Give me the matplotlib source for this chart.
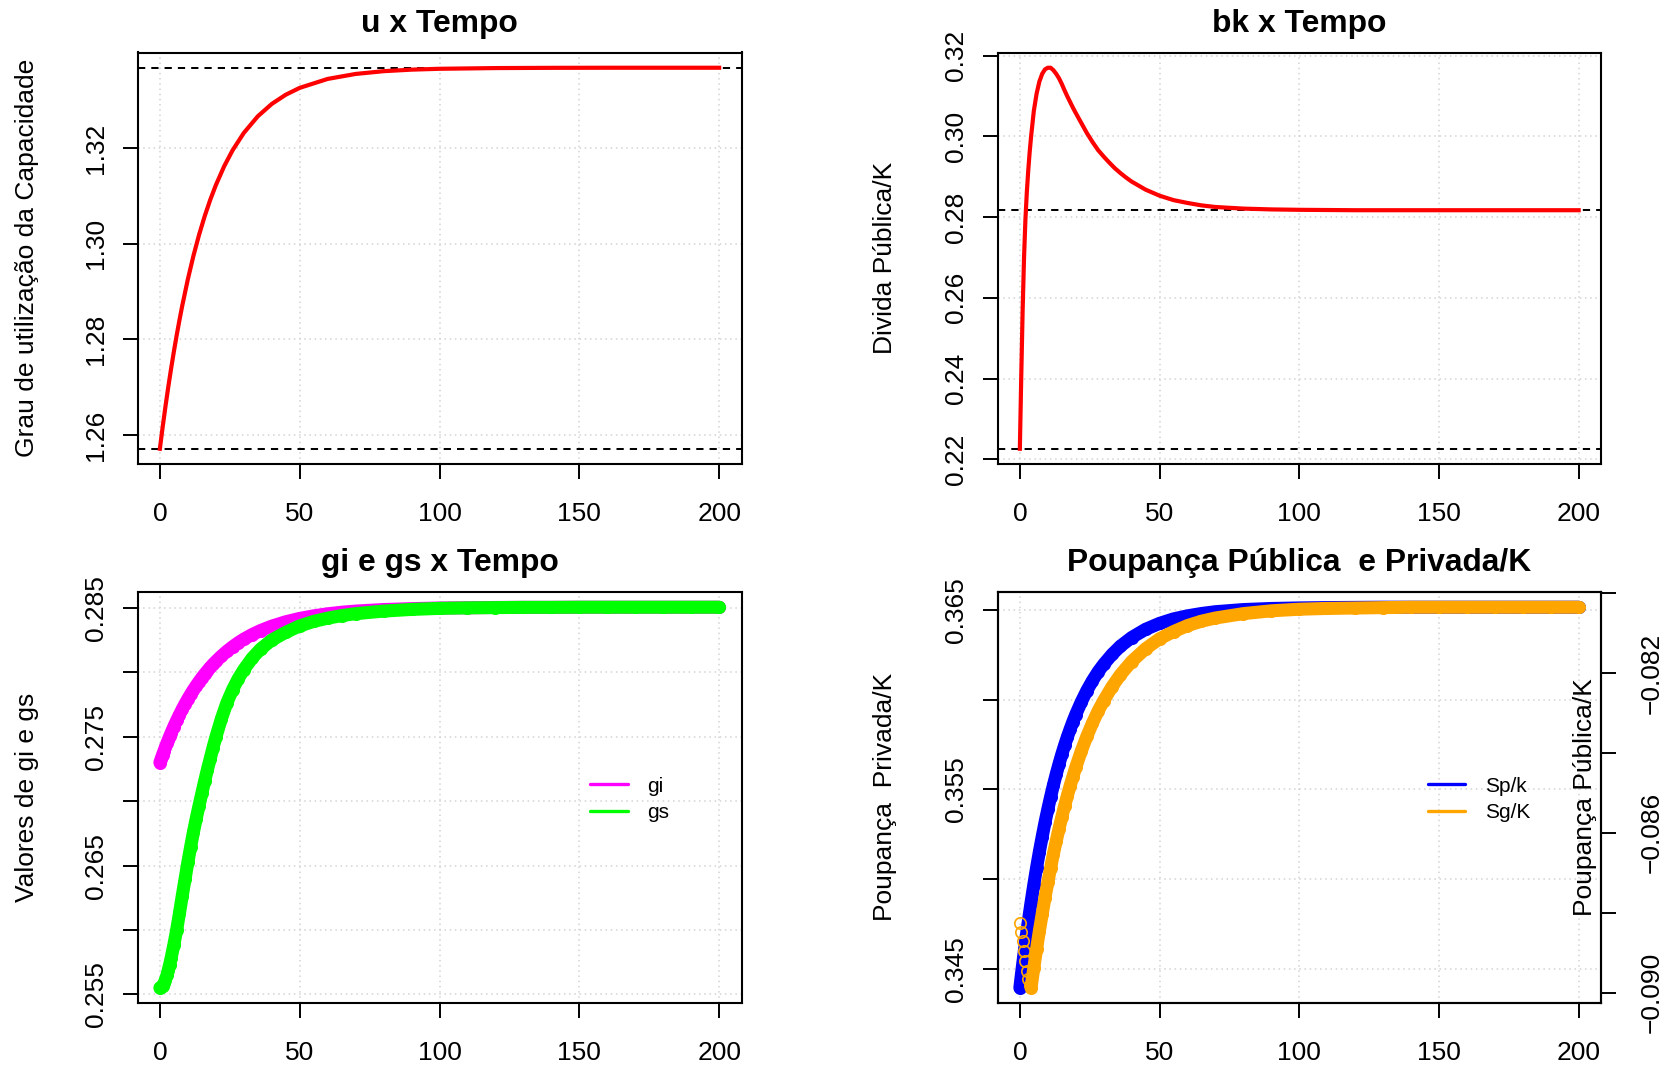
import matplotlib
matplotlib.use("Agg")
import matplotlib.pyplot as plt
from matplotlib.lines import Line2D

plt.rcParams['font.family'] = ['Liberation Sans', 'DejaVu Sans']

W, H, DPI = 1675, 1073, 100

# ---------------- data ----------------
t_u = [0, 1, 2, 3, 4, 5, 6, 7, 8, 10, 12, 14, 16, 18, 20, 23, 26, 30, 35, 40, 45, 50,
       60, 70, 80, 90, 100, 120, 140, 160, 200]
u = [1.2571, 1.26165, 1.26595, 1.27000, 1.27381, 1.27741, 1.28080, 1.28400, 1.28702,
     1.29254, 1.29745, 1.30182, 1.30570, 1.30915, 1.31222, 1.31620, 1.31953, 1.32315,
     1.32663, 1.32922, 1.33115, 1.33259, 1.33446, 1.33550, 1.33608, 1.33640, 1.33658,
     1.33673, 1.33678, 1.33680, 1.33680]
u_low, u_high = 1.2571, 1.3368

t_bk = [0, 0.5, 1, 1.5, 2, 2.5, 3, 3.5, 4, 5, 6, 7, 8, 9, 10, 11, 12, 13, 14, 15, 16, 17,
        18, 19, 20, 22, 24, 26, 28, 30, 32, 34, 36, 38, 40, 45, 50, 55, 60, 65, 70, 80, 90,
        100, 120, 150, 200]
bk = [0.2226, 0.2405, 0.2570, 0.2700, 0.2795, 0.2862, 0.2915, 0.2960, 0.2998, 0.3063,
      0.3106, 0.3136, 0.3155, 0.3166, 0.3170, 0.3170, 0.3164, 0.3155, 0.3144, 0.3130,
      0.3114, 0.3099, 0.3085, 0.3071, 0.3058, 0.3033, 0.3008, 0.2986, 0.2966, 0.2950,
      0.2935, 0.2921, 0.2909, 0.2898, 0.2888, 0.2868, 0.2853, 0.2842, 0.2835, 0.2829,
      0.2825, 0.2821, 0.2819, 0.2818, 0.2817, 0.2817, 0.2817]
bk_low, bk_high = 0.2226, 0.2817

t_c = [0, 0.5, 1, 1.5, 2, 2.5, 3, 3.5, 4, 5, 6, 7, 8, 9, 10, 11, 12, 13, 14, 15, 16, 17,
       18, 19, 20, 22, 24, 26, 28, 30, 33, 36, 40, 45, 50, 55, 60, 65, 70, 80, 90, 100,
       110, 120, 130, 140, 150, 160, 170, 180, 190, 200]
gi = [0.27300, 0.27331, 0.27362, 0.27391, 0.27420, 0.27449, 0.27476, 0.27503, 0.27529,
      0.27579, 0.27626, 0.27671, 0.27714, 0.27755, 0.27793, 0.27830, 0.27864, 0.27897,
      0.27928, 0.27958, 0.27986, 0.28012, 0.28038, 0.28062, 0.28084, 0.28126, 0.28164,
      0.28198, 0.28229, 0.28257, 0.28293, 0.28324, 0.28358, 0.28392, 0.28418, 0.28438,
      0.28454, 0.28466, 0.28475, 0.28487, 0.28494, 0.28499, 0.28501, 0.28503, 0.28504,
      0.28504, 0.28505, 0.28505, 0.28505, 0.28505, 0.28505, 0.28505]
gs = [0.25552, 0.25556, 0.25568, 0.25588, 0.25615, 0.25648, 0.25688, 0.25732, 0.25780,
      0.25885, 0.26000, 0.26130, 0.26265, 0.26395, 0.26525, 0.26645, 0.26760, 0.26865,
      0.26965, 0.27060, 0.27155, 0.27245, 0.27330, 0.27415, 0.27495, 0.27640, 0.27765,
      0.27865, 0.27950, 0.28020, 0.28110, 0.28180, 0.28250, 0.28310, 0.28360, 0.28395,
      0.28420, 0.28440, 0.28455, 0.28475, 0.28488, 0.28496, 0.28500, 0.28502, 0.28504,
      0.28504, 0.28505, 0.28505, 0.28505, 0.28505, 0.28505, 0.28505]
sp = [0.34395, 0.34461, 0.34525, 0.34587, 0.34647, 0.34705, 0.34762, 0.34816, 0.34869,
      0.34970, 0.35065, 0.35154, 0.35237, 0.35316, 0.35389, 0.35458, 0.35523, 0.35584,
      0.35641, 0.35695, 0.35745, 0.35792, 0.35836, 0.35878, 0.35917, 0.35988, 0.36051,
      0.36106, 0.36155, 0.36197, 0.36252, 0.36298, 0.36346, 0.36392, 0.36425, 0.36450,
      0.36467, 0.36480, 0.36490, 0.36502, 0.36508, 0.36511, 0.36513, 0.36514, 0.36515,
      0.36515, 0.36515, 0.36515, 0.36515, 0.36515, 0.36515, 0.36515]
sg = [-0.08827, -0.08848, -0.08870, -0.08895, -0.08920, -0.08945, -0.08965, -0.08980,
      -0.08988, -0.08938, -0.08890, -0.08845, -0.08803, -0.08762, -0.08724, -0.08688,
      -0.08653, -0.08621, -0.08590, -0.08561, -0.08533, -0.08507, -0.08482, -0.08459,
      -0.08436, -0.08395, -0.08358, -0.08325, -0.08295, -0.08269, -0.08234, -0.08204,
      -0.08171, -0.08139, -0.08114, -0.08096, -0.08081, -0.08070, -0.08062, -0.08051,
      -0.08044, -0.08040, -0.08038, -0.08037, -0.08036, -0.08035, -0.08035, -0.08035,
      -0.08035, -0.08035, -0.08035, -0.08035]

x_ticks = [0, 50, 100, 150, 200]
x_labels = ["0", "50", "100", "150", "200"]
u_ticks = [1.26, 1.28, 1.30, 1.32]
u_labels = ["1.26", "1.28", "1.30", "1.32"]
bk_ticks = [0.22, 0.24, 0.26, 0.28, 0.30, 0.32]
bk_labels = ["0.22", "0.24", "0.26", "0.28", "0.30", "0.32"]
g_ticks = [0.255, 0.260, 0.265, 0.270, 0.275, 0.280, 0.285]
g_labels = ["0.255", "", "0.265", "", "0.275", "", "0.285"]
sp_ticks = [0.345, 0.350, 0.355, 0.360, 0.365]
sp_labels = ["0.345", "", "0.355", "", "0.365"]
sg_ticks = [-0.090, -0.088, -0.086, -0.084, -0.082, -0.080]
sg_labels = ["\u22120.090", "", "\u22120.086", "", "\u22120.082", ""]

titles = ["u x Tempo", "bk x Tempo", "gi e gs x Tempo", "Poupan\u00e7a P\u00fablica  e Privada/K"]
ylabels = ["Grau de utiliza\u00e7\u00e3o da Capacidade", "Divida P\u00fablica/K",
           "Valores de gi e gs", "Poupan\u00e7a  Privada/K"]
right_label = "Poupan\u00e7a P\u00fablica/K"
legend_g = ["gi", "gs"]
legend_s = ["Sp/k", "Sg/K"]

# ---------------- style ----------------
FS = 19
TICK_LEN = 10.5
GRID_KW = dict(color="#D3D3D3", linestyle=(0, (1, 2.4)), linewidth=1.1)
DASH_KW = dict(color="black", linestyle=(0, (3.6, 3.0)), linewidth=1.45)
BAND_LW = 9.4
RING_KW = dict(marker="o", markersize=8.2, markeredgewidth=1.2,
               markerfacecolor="none", linestyle="none")

fig = plt.figure(figsize=(W / DPI, H / DPI), dpi=DPI)


def add_axes(l, t, r, b):
    return fig.add_axes([l / W, 1 - b / H, (r - l) / W, (b - t) / H])


def pad_range(vals):
    lo, hi = min(vals), max(vals)
    d = (hi - lo) * 0.04
    return lo - d, hi + d


def style(ax, yt, yl, title):
    ax.set_xlim(-8, 208)
    ax.set_xticks(x_ticks)
    ax.set_xticklabels(x_labels)
    ax.set_yticks(yt)
    ax.set_yticklabels(yl, rotation=90, va="center")
    ax.tick_params(axis="x", length=TICK_LEN, width=1.4, labelsize=FS, pad=16.8)
    ax.tick_params(axis="y", length=TICK_LEN, width=1.4, labelsize=FS, pad=10.7)
    for s in ax.spines.values():
        s.set_linewidth(1.5)
    ax.grid(True, **GRID_KW)
    ax.set_axisbelow(True)
    ax.set_title(title, fontsize=22.9, fontweight="bold", pad=14.8)


def ylab(x, y, text):
    fig.text(x / W, 1 - y / H, text, rotation=90, ha="center", va="center", fontsize=FS)


# panel 1
ax1 = add_axes(137.5, 52.5, 741.5, 464)
ax1.plot(t_u, u, color="red", lw=3.0, zorder=3)
ax1.axhline(u_low, **DASH_KW, zorder=2)
ax1.axhline(u_high, **DASH_KW, zorder=2)
ax1.set_ylim(*pad_range(u))
style(ax1, u_ticks, u_labels, titles[0])
ylab(27, 258, ylabels[0])

# panel 2
ax2 = add_axes(997.5, 52.5, 1601, 464)
ax2.plot(t_bk, bk, color="red", lw=3.0, zorder=3)
ax2.axhline(bk_low, **DASH_KW, zorder=2)
ax2.axhline(bk_high, **DASH_KW, zorder=2)
ax2.set_ylim(*pad_range(bk))
style(ax2, bk_ticks, bk_labels, titles[1])
ylab(885, 258, ylabels[1])

# panel 3
ax3 = add_axes(137.5, 592, 741.5, 1003)
ax3.plot(t_c, gi, color="#FF00FF", lw=BAND_LW, solid_capstyle="round", zorder=3)
ax3.plot(t_c, gi, color="#FF00FF", zorder=3, **RING_KW)
ax3.plot(t_c, gs, color="#00FF00", lw=BAND_LW, solid_capstyle="round", zorder=4)
ax3.plot(t_c, gs, color="#00FF00", zorder=4, **RING_KW)
ax3.set_ylim(*pad_range(gi + gs))
style(ax3, g_ticks, g_labels, titles[2])
ylab(27, 797, ylabels[2])

# panel 4
ax4 = add_axes(997.5, 592, 1601, 1003)
ax4.plot(t_c, sp, color="#0000FF", lw=BAND_LW, solid_capstyle="round", zorder=3)
ax4.plot(t_c, sp, color="#0000FF", zorder=3, **RING_KW)
ax4.set_ylim(*pad_range(sp))
style(ax4, sp_ticks, sp_labels, titles[3])
ylab(885, 797, ylabels[3])

ax5 = ax4.twinx()
ax5.set_xlim(-8, 208)
ax5.plot(t_c[8:], sg[8:], color="#FFA500", lw=BAND_LW, solid_capstyle="round", zorder=3)
ax5.plot(t_c, sg, color="#FFA500", zorder=3, **RING_KW)
ax5.set_ylim(*pad_range(sg))
ax5.set_yticks(sg_ticks)
ax5.set_yticklabels(sg_labels, rotation=90, va="center")
ax5.tick_params(axis="y", length=TICK_LEN, width=1.4, labelsize=FS, pad=17.6)
for s in ax5.spines.values():
    s.set_linewidth(1.5)
ylab(1585, 797, right_label)

# legends (no frame)
def legend_item(x0, x1, y, color, text, tx):
    fig.add_artist(Line2D([x0 / W, x1 / W], [1 - y / H, 1 - y / H], color=color,
                          lw=2.4, solid_capstyle="round"))
    fig.text(tx / W, 1 - (y + 7.6) / H, text, ha="left", va="baseline", fontsize=15)

legend_item(590, 628, 784.3, "#FF00FF", legend_g[0], 647)
legend_item(590, 628, 810.7, "#00FF00", legend_g[1], 647)
legend_item(1428, 1465, 784.3, "#0000FF", legend_s[0], 1485)
legend_item(1428, 1465, 810.7, "#FFA500", legend_s[1], 1485)

fig.savefig("out.png", dpi=DPI)
